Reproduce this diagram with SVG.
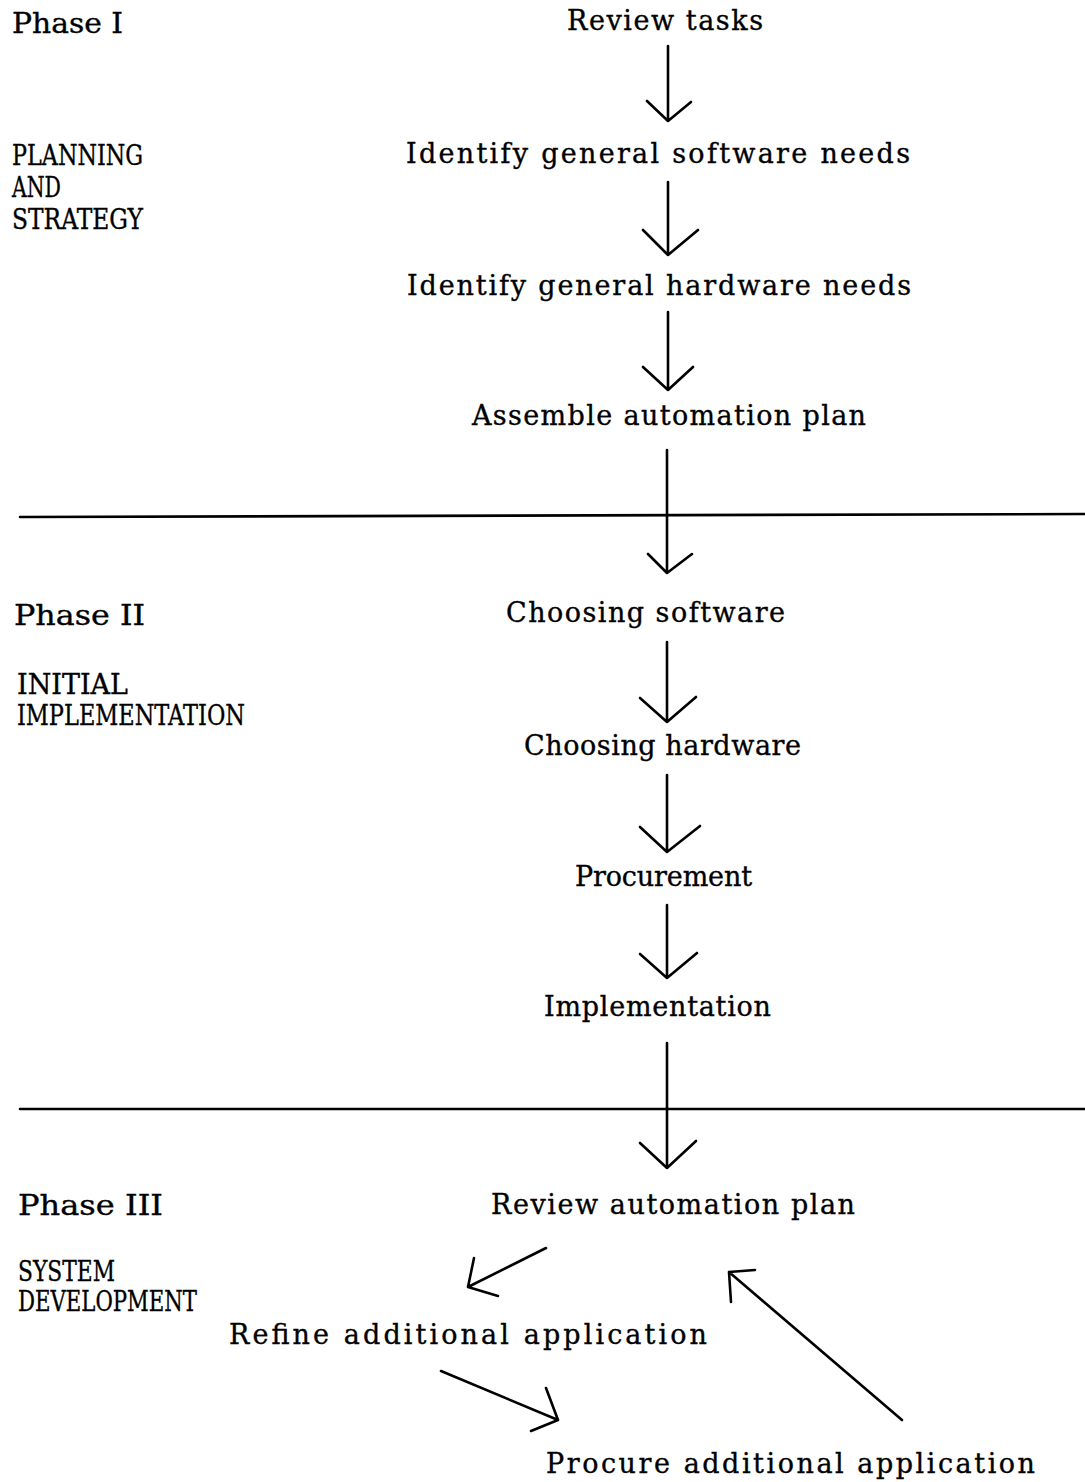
<svg xmlns="http://www.w3.org/2000/svg" width="1085" height="1482" viewBox="0 0 1085 1482">
<style>
  text { font-family: "DejaVu Serif", "Liberation Serif", serif; font-size: 27px; fill: #000; stroke: #000; stroke-width: 0.35; }
  .lbl { font-size: 27px; }
  .cap { font-size: 27px; }
  .ln { stroke: #000; stroke-width: 2.6; fill: none; stroke-linecap: round; stroke-linejoin: round; }
</style>
<rect width="1085" height="1482" fill="#fff"/>

<g id="phase-labels">
  <text class="lbl" x="12" y="33" textLength="111" lengthAdjust="spacingAndGlyphs">Phase I</text>
  <text class="cap" x="12" y="165" textLength="131" lengthAdjust="spacingAndGlyphs">PLANNING</text>
  <text class="cap" x="12" y="197" textLength="49" lengthAdjust="spacingAndGlyphs">AND</text>
  <text class="cap" x="12" y="229" textLength="131" lengthAdjust="spacingAndGlyphs">STRATEGY</text>
  <text class="lbl" x="14" y="625" textLength="131" lengthAdjust="spacingAndGlyphs">Phase II</text>
  <text class="cap" x="17" y="694" textLength="111" lengthAdjust="spacingAndGlyphs">INITIAL</text>
  <text class="cap" x="17" y="725" textLength="228" lengthAdjust="spacingAndGlyphs">IMPLEMENTATION</text>
  <text class="lbl" x="18" y="1215" textLength="145" lengthAdjust="spacingAndGlyphs">Phase III</text>
  <text class="cap" x="18" y="1281" textLength="97" lengthAdjust="spacingAndGlyphs">SYSTEM</text>
  <text class="cap" x="18" y="1311" textLength="179" lengthAdjust="spacingAndGlyphs">DEVELOPMENT</text>
</g>

<g id="dividers">
  <line class="ln" x1="20" y1="517" x2="1085" y2="514" stroke-width="2"/>
  <line class="ln" x1="20" y1="1109" x2="1085" y2="1109" stroke-width="2"/>
</g>

<g id="node-review-tasks"><text x="567" y="30" textLength="196" lengthAdjust="spacing">Review tasks</text></g>
<g id="node-software-needs"><text x="406" y="163" textLength="504" lengthAdjust="spacing">Identify general software needs</text></g>
<g id="node-hardware-needs"><text x="407" y="295" textLength="504" lengthAdjust="spacing">Identify general hardware needs</text></g>
<g id="node-automation-plan"><text x="472" y="425" textLength="394" lengthAdjust="spacing">Assemble automation plan</text></g>
<g id="node-choosing-software"><text x="506" y="622" textLength="279" lengthAdjust="spacing">Choosing software</text></g>
<g id="node-choosing-hardware"><text x="524" y="755" textLength="277" lengthAdjust="spacing">Choosing hardware</text></g>
<g id="node-procurement"><text x="575" y="886" textLength="177" lengthAdjust="spacing">Procurement</text></g>
<g id="node-implementation"><text x="544" y="1016" textLength="227" lengthAdjust="spacing">Implementation</text></g>
<g id="node-review-plan"><text x="491" y="1214" textLength="364" lengthAdjust="spacing">Review automation plan</text></g>
<g id="node-refine"><text x="229" y="1344" textLength="478" lengthAdjust="spacing">Refine additional application</text></g>
<g id="node-procure-additional"><text x="546" y="1473" textLength="489" lengthAdjust="spacing">Procure additional application</text></g>

<g id="connectors">
  <path class="ln" d="M668 46 V121 M647 101 L668 121 L691 102"/>
  <path class="ln" d="M668 182 V255 M643 230 L668 255 L698 230"/>
  <path class="ln" d="M668 312 V390 M643 367 L668 390 L693 367"/>
  <path class="ln" d="M667 450 V573 M648 554 L667 573 L692 554"/>
  <path class="ln" d="M667 642 V722 M640 698 L667 722 L696 697"/>
  <path class="ln" d="M667 775 V852 M640 827 L667 852 L700 826"/>
  <path class="ln" d="M667 905 V978 M640 954 L667 978 L697 953"/>
  <path class="ln" d="M667 1043 V1168 M640 1143 L667 1168 L696 1141"/>
  <path class="ln" d="M546 1248 L468 1287 M474 1258 L468 1287 L498 1296"/>
  <path class="ln" d="M441 1371 L558 1420 M546 1388 L558 1420 L531 1431"/>
  <path class="ln" d="M902 1420 L729 1272 M755 1270 L729 1272 L731 1302"/>
</g>
</svg>
